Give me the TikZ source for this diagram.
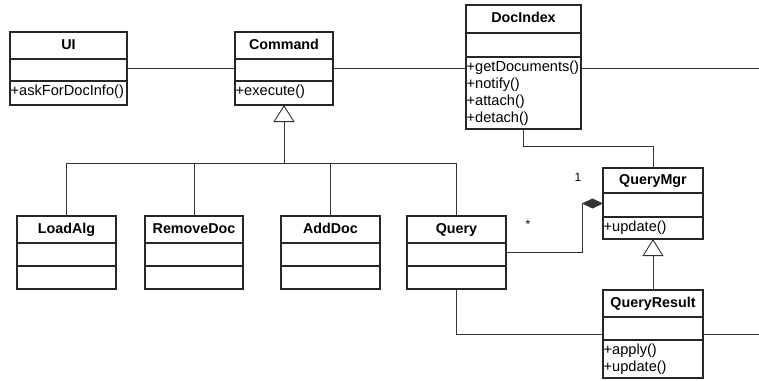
\documentclass[tikz,border=0pt]{standalone}
\usepackage{fontspec}
\setmainfont{Liberation Sans}
\usetikzlibrary{arrows.meta,calc}
\tikzstyle{classbox}=[draw=black!85,line width=1.1,inner sep=0,outer sep=0,anchor=north west]
\tikzstyle{sepline}=[draw=black!85,line width=1.1]
\tikzstyle{link}=[line width=0.9,black!80]
\tikzstyle{inherit}=[link,-{Triangle[open,length=17pt,width=21pt,fill=white]}]
\tikzstyle{compo}=[link,-{Diamond[length=21pt,width=10pt]}]
\tikzstyle{title}=[font=\bfseries\fontsize{14.3}{16}\selectfont,inner sep=0,anchor=base]
\tikzstyle{opline}=[font=\fontsize{14.6}{17}\selectfont,inner xsep=0.5,inner ysep=0,anchor=base west]
\tikzstyle{mult}=[font=\fontsize{12}{14}\selectfont,inner sep=0]

% #1 name, #2 left, #3 top, #4 width, #5-#7 compartment heights, #8 title, #9 operations
\newcommand{\umlclass}[9]{%
  \node[classbox,minimum width=#4pt,minimum height=#5pt+#6pt+#7pt] (#1) at (#2,#3) {};
  \draw[sepline] ($(#1.north west)+(0,#5)$) -- ++(#4,0);
  \draw[sepline] ($(#1.north west)+(0,#5+#6)$) -- ++(#4,0);
  \node[title] at ($(#1.north)+(0,#5/2+3.8)$) {#8};
  \foreach \op [count=\i] in {#9}
    \node[opline] at ($(#1.north west)+(0,#5+#6-3+17*\i)$) {\op};
}

\begin{document}
\begin{tikzpicture}[x=1pt,y=-1pt]
  \useasboundingbox (0,0) rectangle (759,380);

  % CLASSES
  \umlclass{UI}{10}{32}{117}{27}{22}{24}{UI}{+askForDocInfo()}
  \umlclass{Command}{235}{32}{98}{27}{22}{24}{Command}{+execute()}
  \umlclass{DocIndex}{466}{5}{115}{28}{24}{72}{DocIndex}{+getDocuments(),+notify(),+attach(),+detach()}
  \umlclass{LoadAlg}{17}{216}{99}{27}{23}{23}{LoadAlg}{}
  \umlclass{RemoveDoc}{145}{216}{98}{27}{23}{23}{RemoveDoc}{}
  \umlclass{AddDoc}{281}{216}{99}{27}{23}{23}{AddDoc}{}
  \umlclass{Query}{407}{216}{99}{27}{23}{23}{Query}{}
  \umlclass{QueryMgr}{603}{168}{100}{25}{24}{22}{QueryMgr}{+update()}
  \umlclass{QueryResult}{603}{290}{100}{27}{23}{38}{QueryResult}{+apply(),+update()}

  % ASSOCIATIONS
  \coordinate (edge) at (759,0);
  \draw[link] (UI.east) -- (UI.east -| Command.west);
  \draw[link] (Command.east) -- (Command.east -| DocIndex.west);
  \draw[link] (DocIndex.east |- Command.east) -- (edge |- Command.east);
  \draw[link] (DocIndex.south) -- ++(0,17) -| (QueryMgr.north);
  \draw[link] (Query.south) |- (QueryResult.west);
  \draw[link] (QueryResult.east) -- (QueryResult.east -| edge);

  % INHERITANCE
  \coordinate (bus) at (284,163);
  \draw[inherit] (bus) -- (Command.south);
  \foreach \sub in {LoadAlg,RemoveDoc,AddDoc,Query}
    \draw[link] (\sub.north) |- (bus);
  \draw[inherit] (QueryResult.north) -- (QueryMgr.south);

  % COMPOSITION
  \coordinate (knee) at (582,203.5);
  \draw[compo] (Query.east) -| (knee) -- (QueryMgr.west);
  \node[mult] (one) at (578,177) {1};
  \node[mult] (many) at (528,224) {*};
\end{tikzpicture}
\end{document}
